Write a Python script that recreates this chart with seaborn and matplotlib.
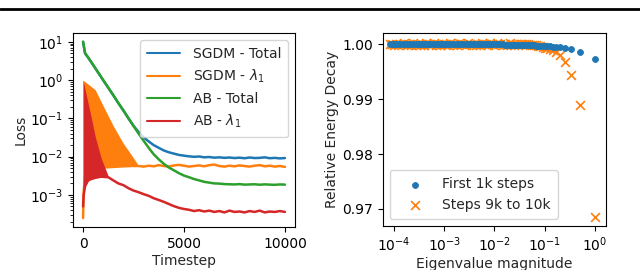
import matplotlib
matplotlib.use("Agg")
import matplotlib.pyplot as plt
from matplotlib.lines import Line2D
from matplotlib.ticker import NullLocator, FormatStrFormatter
import seaborn as sns

# loss curves (left panel)
steps = [0, 100, 250, 500, 750, 1000, 1250, 1500, 1750, 2000, 2250, 2500, 2750, 3000,
         3250, 3500, 3750, 4000, 4250, 4500, 4750, 5000, 5250, 5500, 5750, 6000, 6250,
         6500, 6750, 7000, 7250, 7500, 7750, 8000, 8250, 8500, 8750, 9000, 9250, 9500,
         9750, 10000]
sgdm_total = [10, 5.0, 3.9, 2.48, 1.57, 0.99, 0.63, 0.40, 0.25, 0.16, 0.10, 0.064, 0.044,
              0.032, 0.025, 0.020, 0.017, 0.0145, 0.013, 0.012, 0.0111, 0.0106, 0.0102,
              0.0099, 0.0101, 0.0096, 0.0098, 0.0094, 0.0096, 0.0093, 0.0095, 0.0092,
              0.0094, 0.0091, 0.0095, 0.0092, 0.0093, 0.0096, 0.0091, 0.0093, 0.0090, 0.0092]
ab_total = [10, 5.0, 3.9, 2.48, 1.57, 0.99, 0.63, 0.40, 0.25, 0.16, 0.10, 0.063, 0.040,
            0.026, 0.017, 0.0115, 0.0085, 0.0065, 0.0052, 0.0044, 0.0037, 0.0032, 0.0029,
            0.0026, 0.0024, 0.0022, 0.0021, 0.0020, 0.00198, 0.00192, 0.0019, 0.00188,
            0.00192, 0.00186, 0.00188, 0.0019, 0.00185, 0.00189, 0.00186, 0.00184,
            0.00188, 0.00186]

# SGDM lambda_1: oscillating phase (envelopes) then flat
sgdm_osc_t = [0, 30, 100, 300, 600, 1000, 1500, 2000, 2400, 2750]
sgdm_osc_hi = [1.0, 0.97, 0.9, 0.75, 0.56, 0.21, 0.063, 0.022, 0.011, 0.0058]
sgdm_osc_lo = [2.5e-4, 1.2e-3, 3.0e-3, 4.6e-3, 5.0e-3, 5.2e-3, 5.4e-3, 5.6e-3, 5.7e-3,
               5.8e-3]
sgdm_l1_t = [0, 30, 100, 300, 600, 1000, 1500, 2000, 2400, 2750, 3000, 3250, 3500, 3750,
             4000, 4250, 4500, 4750, 5000, 5250, 5500, 5750, 6000, 6250, 6500, 6750, 7000,
             7250, 7500, 7750, 8000, 8250, 8500, 8750, 9000, 9250, 9500, 9750, 10000]
sgdm_l1 = [2.5e-4, 1.2e-3, 3.0e-3, 4.6e-3, 5.0e-3, 5.2e-3, 5.4e-3, 5.6e-3, 5.7e-3,
           0.0057, 0.0055, 0.0058, 0.0056, 0.0060, 0.0057, 0.0055, 0.0059, 0.0061, 0.0058,
           0.0055, 0.0057, 0.0059, 0.0056, 0.0060, 0.0062, 0.0057, 0.0055, 0.0058, 0.0056,
           0.0059, 0.0057, 0.0055, 0.0058, 0.0060, 0.0056, 0.0058, 0.0055, 0.0057, 0.0054]

# AB lambda_1
ab_osc_t = [0, 30, 100, 250, 400, 600, 900, 1250]
ab_osc_hi = [1.0, 0.85, 0.57, 0.25, 0.11, 0.034, 0.009, 0.0031]
ab_osc_lo = [5e-4, 1.0e-3, 1.7e-3, 2.4e-3, 2.6e-3, 2.8e-3, 3.0e-3, 3.0e-3]
ab_l1_t = [0, 30, 100, 250, 400, 600, 900, 1250, 1500, 1750, 2000, 2250, 2500, 2750, 3000,
           3250, 3500, 3750, 4000, 4250, 4500, 4750, 5000, 5250, 5500, 5750, 6000, 6250,
           6500, 6750, 7000, 7250, 7500, 7750, 8000, 8250, 8500, 8750, 9000, 9250, 9500,
           9750, 10000]
ab_l1 = [5e-4, 1.0e-3, 1.7e-3, 2.4e-3, 2.6e-3, 2.8e-3, 3.0e-3, 2.9e-3, 2.4e-3, 2.0e-3,
         1.8e-3, 1.5e-3, 1.3e-3, 1.18e-3, 1.05e-3, 9.5e-4, 8.2e-4, 7.4e-4, 6.6e-4, 5.8e-4,
         5.1e-4, 4.6e-4, 4.3e-4, 4.1e-4, 3.8e-4, 4.0e-4, 3.7e-4, 3.9e-4, 3.6e-4, 3.8e-4,
         3.5e-4, 3.9e-4, 3.6e-4, 3.7e-4, 3.5e-4, 3.8e-4, 3.6e-4, 3.9e-4, 3.5e-4, 3.7e-4,
         3.6e-4, 3.8e-4, 3.6e-4]

# relative energy decay per eigenvalue (right panel)
eig = [1.0, 0.5, 0.333, 0.25, 0.2, 0.167, 0.143, 0.125, 0.111, 0.1,
       0.091, 0.082, 0.075, 0.068, 0.062, 0.056, 0.051, 0.047, 0.043, 0.039, 0.036, 0.033,
       0.030, 0.027, 0.024, 0.022, 0.020, 0.018, 0.016, 0.015, 0.013, 0.012, 0.011, 0.010,
       0.0091, 0.0082, 0.0075, 0.0068, 0.0062, 0.0056, 0.0051, 0.0047, 0.0043, 0.0039,
       0.0036, 0.0033, 0.0030, 0.0027, 0.0024, 0.0022, 0.0020, 0.0018, 0.0016, 0.0015,
       0.0013, 0.0012, 0.0011, 0.0010,
       0.00091, 0.00082, 0.00075, 0.00068, 0.00062, 0.00056, 0.00051, 0.00047, 0.00043,
       0.00039, 0.00036, 0.00033, 0.00030, 0.00027, 0.00024, 0.00022, 0.00020, 0.00018,
       0.00016, 0.00015, 0.00013, 0.00012, 0.00011, 0.00010, 0.000091, 0.000082]
decay_first = [0.99727, 0.99854, 0.99912, 0.99934, 0.99946, 0.99953, 0.99958, 0.99962,
               0.99965, 0.99968,
               0.99971, 0.99973, 0.99975, 0.99977, 0.99979, 0.99981, 0.99983, 0.99984,
               0.99986, 0.99987, 0.99988, 0.99989, 0.99990, 0.99991, 0.99992, 0.99993,
               0.99994, 0.99994, 0.99995, 0.99996, 0.99996, 0.99997, 0.99997, 0.99998,
               0.99998, 0.99998, 0.99998, 0.99999, 0.99999, 0.99999, 0.99999, 0.99999,
               0.99999, 0.99999, 1.0, 1.0, 1.0, 1.0, 1.0, 1.0, 1.0, 1.0, 1.0, 1.0, 1.0, 1.0,
               1.0, 1.0,
               1.0, 1.0, 1.0, 1.0, 1.0, 1.0, 1.0, 1.0, 1.0, 1.0, 1.0, 1.0, 1.0, 1.0, 1.0,
               1.0, 1.0, 1.0, 1.0, 1.0, 1.0, 1.0, 1.0, 1.0, 1.0, 1.0]
decay_last = [0.96855, 0.98895, 0.99441, 0.99672, 0.99800, 0.99860, 0.99895, 0.99915,
              0.99930, 0.99940,
              0.99950, 0.99962, 0.99968, 0.99978, 0.99982, 0.99990, 0.99992, 0.99998,
              1.00000, 1.00004, 0.99996, 1.00010, 0.99994, 1.00012, 0.99990, 1.00008,
              1.00015, 0.99992, 1.00006, 0.99985, 1.00012, 0.99998, 1.00016, 0.99988,
              1.00004, 1.00014, 0.99986, 1.00008, 0.99996, 1.00016, 0.99984, 1.00010,
              0.99994, 1.00012, 0.99988, 1.00006, 1.00016, 0.99982, 1.00008, 0.99996,
              1.00014, 0.99986, 1.00010, 0.99992, 1.00016, 0.99984, 1.00006, 0.99998,
              1.00012, 0.99986, 1.00010, 0.99994, 1.00016, 0.99982, 1.00008, 0.99996,
              1.00014, 0.99988, 1.00010, 0.99984, 1.00012, 0.99994, 1.00016, 0.99986,
              1.00006, 0.99990, 1.00014, 0.99996, 1.00010, 0.99984, 1.00012, 0.99992,
              1.00006, 0.99998]

sns.set_theme(style="ticks")
plt.rcParams.update({
    "font.family": ["DejaVu Sans"],
    "font.size": 10,
    "axes.labelsize": 10,
    "xtick.labelsize": 10,
    "ytick.labelsize": 10,
    "legend.fontsize": 10,
    "axes.edgecolor": "black",
    "xtick.color": "black",
    "ytick.color": "black",
    "axes.linewidth": 0.8,
    "xtick.major.size": 3.5,
    "ytick.major.size": 3.5,
    "xtick.minor.size": 2,
    "ytick.minor.size": 2,
    "xtick.major.width": 0.8,
    "ytick.major.width": 0.8,
    "xtick.minor.width": 0.6,
    "ytick.minor.width": 0.6,
    "xtick.major.pad": 3.5,
    "ytick.major.pad": 3.5,
    "axes.labelpad": 2,
})
pal = sns.color_palette("tab10")

fig = plt.figure(figsize=(6.4, 2.7), dpi=100)
ax1 = fig.add_axes([0.114, 0.159, 0.347, 0.719])
ax2 = fig.add_axes([0.598, 0.163, 0.349, 0.715])

# left: loss
sns.lineplot(x=steps, y=sgdm_total, ax=ax1, color=pal[0], lw=1.8, label="SGDM - Total",
             zorder=2)
ax1.fill_between(sgdm_osc_t, sgdm_osc_lo, sgdm_osc_hi, color=pal[1], lw=0, zorder=2.1)
sns.lineplot(x=sgdm_l1_t, y=sgdm_l1, ax=ax1, color=pal[1], lw=1.8,
             label="SGDM - $\\lambda_1$", zorder=2.2)
sns.lineplot(x=steps, y=ab_total, ax=ax1, color=pal[2], lw=1.8, label="AB - Total",
             zorder=2.3)
ax1.fill_between(ab_osc_t, ab_osc_lo, ab_osc_hi, color=pal[3], lw=0, zorder=2.4)
sns.lineplot(x=ab_l1_t, y=ab_l1, ax=ax1, color=pal[3], lw=1.8, label="AB - $\\lambda_1$",
             zorder=2.5)
ax1.set_yscale("log")
ax1.set_ylim(1.45e-4, 17)
ax1.set_xlim(-500, 10500)
ax1.set_xticks([0, 5000, 10000])
ax1.set_xlabel("Timestep")
ax1.set_ylabel("Loss")
leg = ax1.legend(loc="upper right", handlelength=2.4, handletextpad=0.9,
                 borderpad=0.5, framealpha=0.8)
for h in leg.get_lines():
    h.set_linewidth(1.5)

# right: relative energy decay
sns.scatterplot(x=eig, y=decay_first, ax=ax2, color=pal[0], marker="o", s=18,
                edgecolor=pal[0], linewidth=0.6, label="First 1k steps", zorder=3)
sns.scatterplot(x=eig, y=decay_last, ax=ax2, color=pal[1], marker="x", s=40,
                linewidth=1.2, label="Steps 9k to 10k", zorder=2)
ax2.set_xscale("log")
ax2.set_xlim(6e-5, 1.66)
ax2.set_ylim(0.9669, 1.00206)
ax2.xaxis.set_minor_locator(NullLocator())
ax2.set_yticks([0.97, 0.98, 0.99, 1.00])
ax2.yaxis.set_major_formatter(FormatStrFormatter("%.2f"))
ax2.set_xlabel("Eigenvalue magnitude")
ax2.set_ylabel("Relative Energy Decay")
ax2.legend(loc="lower left", handlelength=2.6, handletextpad=0.7, borderpad=0.5,
           framealpha=0.8)

fig.add_artist(Line2D([0, 1], [0.965, 0.965], transform=fig.transFigure,
                      color="black", lw=2))

fig.savefig("out.png", dpi=100)
